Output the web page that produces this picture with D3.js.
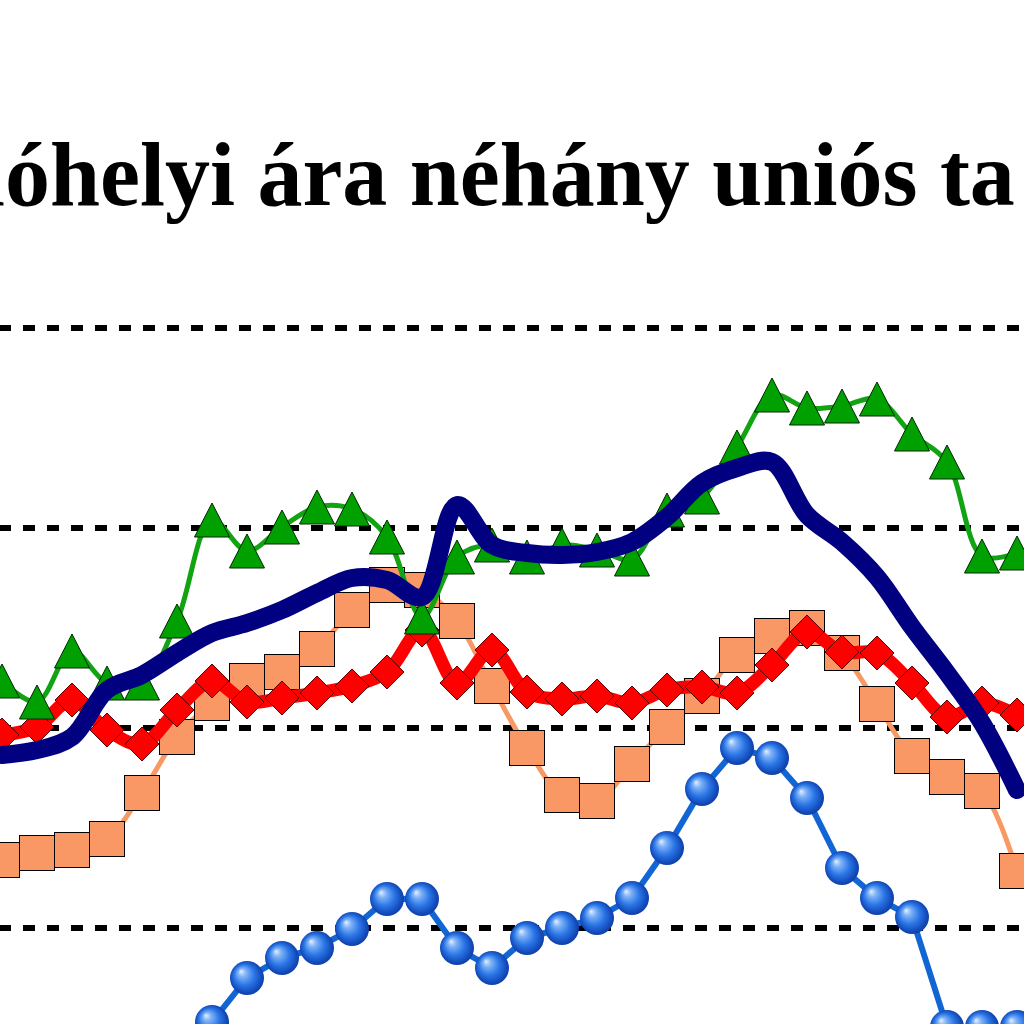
<!DOCTYPE html>
<html>
<head>
<meta charset="utf-8">
<script src="https://cdn.jsdelivr.net/npm/d3@7"></script>
<style>
  html, body { margin: 0; padding: 0; background: #ffffff; overflow: hidden; }
  svg { display: block; }
</style>
</head>
<body>
<svg id="chart" width="1024" height="1024"></svg>
<script>
// ---- data ----
const titleText = "lóhelyi ára néhány uniós ta";
const categories = ["1","2","3","4","5","6","7","8","9","10","11","12","13","14","15",
                    "16","17","18","19","20","21","22","23","24","25","26","27","28","29","30"];
const gridValues = [120, 140, 160, 180];

const seriesOrange = [126.8,127.5,127.8,128.9,133.5,139.1,142.5,144.7,145.6,147.9,151.8,154.3,153.8,150.7,144.2,
                      138.0,133.3,132.7,136.4,140.1,143.2,147.3,149.2,150.0,147.5,142.4,137.2,135.1,133.7,125.7];
const seriesRed    = [139.3,140.1,142.8,139.8,138.4,141.8,144.7,142.6,143.0,143.5,144.2,145.6,149.8,144.5,147.8,
                      143.6,142.9,143.2,142.5,143.8,144.1,143.5,146.3,149.6,147.6,147.5,144.5,141.1,142.5,141.3];
const seriesGreen  = [144.7,142.6,147.7,144.5,144.5,150.7,160.8,157.7,160.1,162.1,161.9,159.1,151.1,157.1,158.3,
                      157.1,158.3,157.8,156.9,161.8,163.1,168.1,173.3,172.0,172.2,172.9,169.4,166.6,157.2,157.5];
const seriesNavy   = [137.3,137.8,139.1,143.8,145.3,147.5,149.5,150.5,151.8,153.5,155.0,154.8,153.1,162.3,158.3,
                      157.5,157.3,157.6,158.6,161.1,164.5,166.0,166.6,161.3,158.6,155.1,150.1,145.5,140.5,133.8];
const seriesBlue   = [null,null,null,null,null,105.0,110.6,115.0,117.0,118.0,119.9,122.9,122.9,118.0,116.0,
                      119.0,120.0,121.0,123.0,128.0,133.9,138.0,137.0,133.0,126.0,123.0,121.1,110.1,110.1,110.1];

// ---- scales ----
const svg = d3.select("#chart");
const x = d3.scalePoint().domain(categories).range([2, 1017]);
const y = d3.scaleLinear().domain([120, 180]).range([928, 328]);

// ---- defs: sphere gradient ----
const defs = svg.append("defs");
const rg = defs.append("radialGradient").attr("id", "sphere")
  .attr("cx", "0.5").attr("cy", "0.5").attr("r", "0.55")
  .attr("fx", "0.32").attr("fy", "0.3");
rg.append("stop").attr("offset", "0%").attr("stop-color", "#e6f0ff");
rg.append("stop").attr("offset", "22%").attr("stop-color", "#7fb2f7");
rg.append("stop").attr("offset", "55%").attr("stop-color", "#2a76e6");
rg.append("stop").attr("offset", "85%").attr("stop-color", "#1248b8");
rg.append("stop").attr("offset", "100%").attr("stop-color", "#0d3a9a");

// ---- title (the visible part of a cropped title) ----
const title = svg.append("text")
  .attr("font-family", "'Liberation Serif','Times New Roman',serif")
  .attr("font-weight", "bold")
  .attr("font-size", 92)
  .attr("fill", "#000")
  .text(titleText);
{
  const node = title.node();
  const x0 = node.getStartPositionOfChar(1).x;                       // "ó"
  const xt = node.getStartPositionOfChar(titleText.lastIndexOf("t")).x; // "t"
  const sx = (940 - 5) / (xt - x0);
  title.attr("transform", `translate(${5 - x0 * sx},205) scale(${sx},1)`);
}

// ---- gridlines ----
svg.append("g").selectAll("line").data(gridValues).join("line")
  .attr("x1", -1).attr("x2", 1030)
  .attr("y1", d => y(d)).attr("y2", d => y(d))
  .attr("stroke", "#000").attr("stroke-width", 6)
  .attr("stroke-dasharray", "12 12");

const idx = categories.map((c, i) => i);
function lineGen(vals, curve) {
  return d3.line()
    .defined(i => vals[i] !== null)
    .x(i => x(categories[i]))
    .y(i => y(vals[i]))
    .curve(curve)(idx);
}
const pts = vals => idx.filter(i => vals[i] !== null);

// ---- blue spheres ----
const gBlue = svg.append("g");
gBlue.append("path").attr("d", lineGen(seriesBlue, d3.curveLinear))
  .attr("fill", "none").attr("stroke", "#1266d4").attr("stroke-width", 6);
gBlue.selectAll("circle").data(pts(seriesBlue)).join("circle")
  .attr("cx", i => x(categories[i])).attr("cy", i => y(seriesBlue[i]))
  .attr("r", 17).attr("fill", "url(#sphere)");

// ---- orange squares ----
const gOr = svg.append("g");
gOr.append("path").attr("d", lineGen(seriesOrange, d3.curveCatmullRom))
  .attr("fill", "none").attr("stroke", "#f89862").attr("stroke-width", 5);
gOr.selectAll("rect").data(pts(seriesOrange)).join("rect")
  .attr("x", i => x(categories[i]) - 17.5).attr("y", i => y(seriesOrange[i]) - 17.5)
  .attr("width", 35).attr("height", 35)
  .attr("fill", "#f99864").attr("stroke", "#000").attr("stroke-width", 1);

// ---- red diamonds ----
const gRed = svg.append("g");
gRed.append("path").attr("d", lineGen(seriesRed, d3.curveCatmullRom))
  .attr("fill", "none").attr("stroke", "#ff0000").attr("stroke-width", 13);
gRed.selectAll("path.m").data(pts(seriesRed)).join("path").attr("class", "m")
  .attr("d", i => {
    const cx = x(categories[i]), cy = y(seriesRed[i]);
    return `M${cx},${cy - 17}L${cx + 17},${cy}L${cx},${cy + 17}L${cx - 17},${cy}Z`;
  })
  .attr("fill", "#ff0000").attr("stroke", "#600000").attr("stroke-width", 1);

// ---- green triangles ----
const gGr = svg.append("g");
gGr.append("path").attr("d", lineGen(seriesGreen, d3.curveCatmullRom))
  .attr("fill", "none").attr("stroke", "#12a312").attr("stroke-width", 5);
gGr.selectAll("path.m").data(pts(seriesGreen)).join("path").attr("class", "m")
  .attr("d", i => {
    const cx = x(categories[i]), cy = y(seriesGreen[i]);
    return `M${cx},${cy - 17}L${cx + 17.5},${cy + 17}L${cx - 17.5},${cy + 17}Z`;
  })
  .attr("fill", "#00a000").attr("stroke", "#002800").attr("stroke-width", 1);

// ---- navy thick line ----
svg.append("path").attr("d", lineGen(seriesNavy, d3.curveCatmullRom))
  .attr("fill", "none").attr("stroke", "#000080").attr("stroke-width", 18)
  .attr("stroke-linejoin", "round").attr("stroke-linecap", "round");
</script>
</body>
</html>
